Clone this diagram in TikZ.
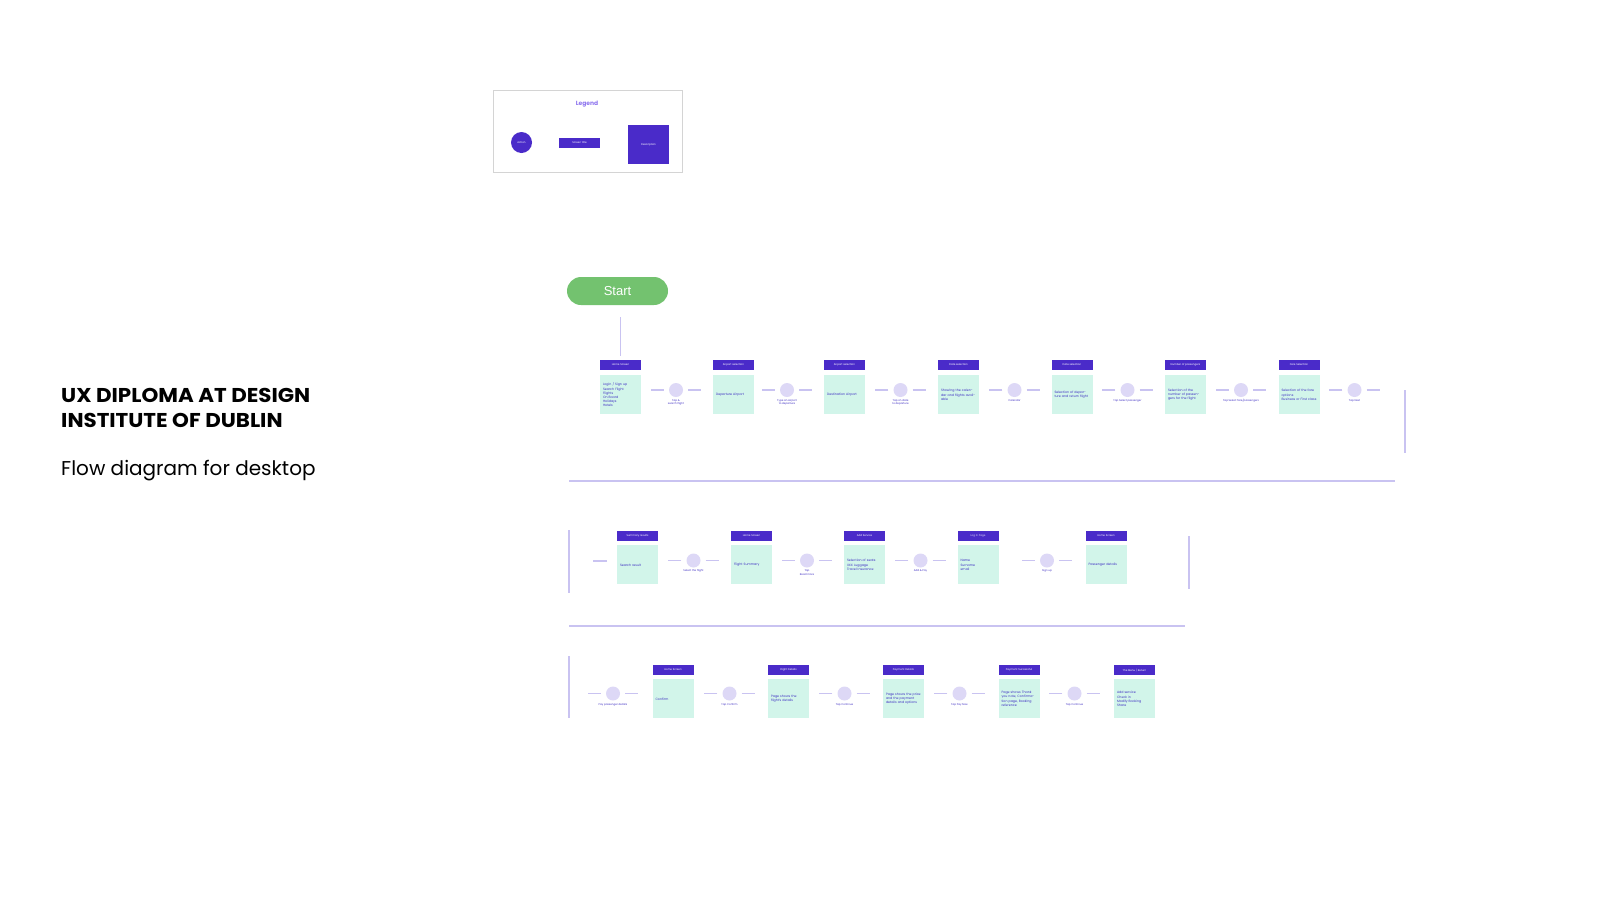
\documentclass[tikz,border=0pt]{standalone}
\usepackage{fontspec}
\setmainfont{Poppins}
\newfontfamily\startfont{Liberation Sans}
\newfontfamily\titlefont{Poppins}[FakeStretch=1.07]
\usetikzlibrary{positioning}
\definecolor{hdrc}{HTML}{4A2BC9}
\definecolor{mint}{HTML}{D2F5EA}
\definecolor{actc}{HTML}{DDD8F6}
\definecolor{linec}{HTML}{C9C3F1}
\definecolor{inkc}{HTML}{3F2FC2}
\definecolor{legc}{HTML}{8D74EE}
\definecolor{startc}{HTML}{73C26F}
\definecolor{boxc}{HTML}{D4D4D4}
\tikzset{
  hdr/.style={rectangle,fill=hdrc,text=white,minimum width=41,minimum height=10,inner sep=0pt,font=\fontsize{2.6}{3}\selectfont},
  desc/.style={rectangle,fill=mint,text=inkc,minimum width=41,minimum height=39,text width=35,inner sep=3pt,align=left,font=\fontsize{3.2}{4.2}\selectfont},
  act/.style={circle,fill=actc,minimum size=14,inner sep=0pt},
  actlabel/.style={text=inkc,inner sep=0pt,align=center,font=\fontsize{2.6}{3.4}\selectfont},
  link/.style={draw=linec,line width=1.3pt},
  rail/.style={draw=linec,line width=1.6pt},
}
\begin{document}
\begin{tikzpicture}[x=1pt,y=-1pt]
\useasboundingbox (0,0) rectangle (1600,900);
% titles
\node[anchor=base west,inner sep=0pt,font=\titlefont\bfseries\fontsize{20}{24}\selectfont] (title1) at (61,402) {UX DIPLOMA AT DESIGN};
\node[anchor=base west,inner sep=0pt,font=\titlefont\bfseries\fontsize{20}{24}\selectfont] (title2) at (61,427) {INSTITUTE OF DUBLIN};
\node[anchor=base west,inner sep=0pt,font=\fontsize{20}{24}\selectfont] (sub) at (61,475) {Flow diagram for desktop};
% legend
\node[draw=boxc,line width=0.8pt,minimum width=189,minimum height=82,inner sep=0pt] (legend) at (587.5,131) {};
\node[text=legc,font=\bfseries\fontsize{6}{7}\selectfont] (legtitle) at (587,104) {Legend};
\node[circle,fill=hdrc,minimum size=21,inner sep=0pt,text=white,font=\fontsize{2.6}{3}\selectfont] (legact) at (521.5,142.5) {Action};
\node[hdr] (leghdr) at (579.5,143) {Screen title};
\node[rectangle,fill=hdrc,minimum width=41,minimum height=39,inner sep=0pt,text=white,font=\fontsize{2.6}{3}\selectfont] (legdesc) at (648.5,144.5) {Description};
% start
\node[rectangle,rounded corners=14pt,fill=startc,text=white,minimum width=101,minimum height=28,font=\startfont\fontsize{13}{15}\selectfont] (start) at (617.5,291) {Start};
% row 1
\node[hdr] (h11) at (620.5,365) {Home Screen};
\node[desc,below=5pt of h11] (d11) {Login / Sign up\\Search Flight\\Flights\\On Board\\Holidays\\Hotels};
\node[act] (c11) at (676,390) {};
\node[actlabel,below=2pt of c11] {Tap \&\\search flight};
\node[hdr] (h12) at (733.5,365) {Airport selection};
\node[desc,below=5pt of h12] (d12) {Departure Airport};
\node[act] (c12) at (787,390) {};
\node[actlabel,below=2pt of c12] {Type an airport\\to departure};
\node[hdr] (h13) at (844.5,365) {Airport selection};
\node[desc,below=5pt of h13] (d13) {Destination Airport};
\node[act] (c13) at (900.5,390) {};
\node[actlabel,below=2pt of c13] {Tap on date\\to departure};
\node[hdr] (h14) at (958.5,365) {Date selection};
\node[desc,below=5pt of h14] (d14) {Showing the calendar and flights available};
\node[act] (c14) at (1014.5,390) {};
\node[actlabel,below=2pt of c14] {Calendar};
\node[hdr] (h15) at (1072,365) {Date selection};
\node[desc,below=5pt of h15] (d15) {Selection of departure and return flight};
\node[act] (c15) at (1127.5,390) {};
\node[actlabel,below=2pt of c15] {Tap Select passenger};
\node[hdr] (h16) at (1185.5,365) {Number of passengers};
\node[desc,below=5pt of h16] (d16) {Selection of the number of passengers for the flight};
\node[act] (c16) at (1241,390) {};
\node[actlabel,below=2pt of c16] {Tap Select fare/passengers};
\node[hdr] (h17) at (1299,365) {Fare Selection};
\node[desc,below=5pt of h17] (d17) {Selection of the fare options\\Business or First class};
\node[act] (c17) at (1354.5,390) {};
\node[actlabel,below=2pt of c17] {Tap Next};
% row 2
\node[hdr] (h21) at (637.5,536) {Summary results};
\node[desc,below=4pt of h21] (d21) {Search result};
\node[act] (c21) at (693.5,560.5) {};
\node[actlabel,below=2pt of c21] {Select the flight};
\node[hdr] (h22) at (751.5,536) {Home Screen};
\node[desc,below=4pt of h22] (d22) {Flight Summary};
\node[act] (c22) at (807,560.5) {};
\node[actlabel,below=2pt of c22] {Tap\\Read more};
\node[hdr] (h23) at (864.5,536) {Add Service};
\node[desc,below=4pt of h23] (d23) {Selection of seats\\XXX Luggage\\Travel Insurance};
\node[act] (c23) at (920.5,560.5) {};
\node[actlabel,below=2pt of c23] {Add \& Pay};
\node[hdr,text=actc] (h24) at (978,536) {Log In Page};
\node[desc,below=4pt of h24] (d24) {Name\\Surname\\email};
\node[act] (c24) at (1047,560.5) {};
\node[actlabel,below=2pt of c24] {Sign up};
\node[hdr] (h25) at (1106,536) {Home Screen};
\node[desc,below=4pt of h25] (d25) {Passenger details};
% row 3
\node[act] (c31) at (613,693.5) {};
\node[actlabel,below=3pt of c31] {Pay passenger details};
\node[hdr] (h31) at (673,670) {Home Screen};
\node[desc,below=4pt of h31] (d31) {Confirm};
\node[act] (c32) at (729.5,693.5) {};
\node[actlabel,below=3pt of c32] {Tap Confirm};
\node[hdr] (h32) at (788.5,670) {Flight Details};
\node[desc,below=4pt of h32] (d32) {Page shows the flight's details};
\node[act] (c33) at (844.5,693.5) {};
\node[actlabel,below=3pt of c33] {Tap Continue};
\node[hdr] (h33) at (903.5,670) {Payment Details};
\node[desc,below=4pt of h33] (d33) {Page shows the price and the payment details and options};
\node[act] (c34) at (959.5,693.5) {};
\node[actlabel,below=3pt of c34] {Tap Pay Now};
\node[hdr] (h34) at (1019,670) {Payment Successful};
\node[desc,below=4pt of h34] (d34) {Page shows Thank you note, Confirmation page, Booking reference};
\node[act] (c35) at (1074.5,693.5) {};
\node[actlabel,below=3pt of c35] {Tap Continue};
\node[hdr] (h35) at (1134.5,670) {The Menu / Return};
\node[desc,below=4pt of h35] (d35) {Add service\\Check in\\Modify Booking\\Share};
% connectors
\draw[rail,shorten <=12pt,shorten >=4pt] (start.south -| h11) -- (h11.north);
\draw[link] ([xshift=-5]c11.west) -- ++(-13,0);
\draw[link] ([xshift=5]c11.east) -- ++(13,0);
\draw[link] ([xshift=-5]c12.west) -- ++(-13,0);
\draw[link] ([xshift=5]c12.east) -- ++(13,0);
\draw[link] ([xshift=-5]c13.west) -- ++(-13,0);
\draw[link] ([xshift=5]c13.east) -- ++(13,0);
\draw[link] ([xshift=-5]c14.west) -- ++(-13,0);
\draw[link] ([xshift=5]c14.east) -- ++(13,0);
\draw[link] ([xshift=-5]c15.west) -- ++(-13,0);
\draw[link] ([xshift=5]c15.east) -- ++(13,0);
\draw[link] ([xshift=-5]c16.west) -- ++(-13,0);
\draw[link] ([xshift=5]c16.east) -- ++(13,0);
\draw[link] ([xshift=-5]c17.west) -- ++(-13,0);
\draw[link] ([xshift=5]c17.east) -- ++(13,0);
\coordinate (in2) at (607,561);
\draw[link] (in2) -- ++(-14,0);
\draw[link] ([xshift=-5]c21.west) -- ++(-13,0);
\draw[link] ([xshift=5]c21.east) -- ++(13,0);
\draw[link] ([xshift=-5]c22.west) -- ++(-13,0);
\draw[link] ([xshift=5]c22.east) -- ++(13,0);
\draw[link] ([xshift=-5]c23.west) -- ++(-13,0);
\draw[link] ([xshift=5]c23.east) -- ++(13,0);
\draw[link] ([xshift=-5]c24.west) -- ++(-13,0);
\draw[link] ([xshift=5]c24.east) -- ++(13,0);
\draw[link] ([xshift=-5]c31.west) -- ++(-13,0);
\draw[link] ([xshift=5]c31.east) -- ++(13,0);
\draw[link] ([xshift=-5]c32.west) -- ++(-13,0);
\draw[link] ([xshift=5]c32.east) -- ++(13,0);
\draw[link] ([xshift=-5]c33.west) -- ++(-13,0);
\draw[link] ([xshift=5]c33.east) -- ++(13,0);
\draw[link] ([xshift=-5]c34.west) -- ++(-13,0);
\draw[link] ([xshift=5]c34.east) -- ++(13,0);
\draw[link] ([xshift=-5]c35.west) -- ++(-13,0);
\draw[link] ([xshift=5]c35.east) -- ++(13,0);
% flow rails between rows
\draw[rail] (1405,390) -- (1405,453);
\draw[rail] (569,481) -- (1395,481);
\draw[rail] (569,530) -- (569,593);
\draw[rail] (1189,536) -- (1189,589);
\draw[rail] (569,626) -- (1185,626);
\draw[rail] (569,656) -- (569,718);
\end{tikzpicture}
\end{document}
